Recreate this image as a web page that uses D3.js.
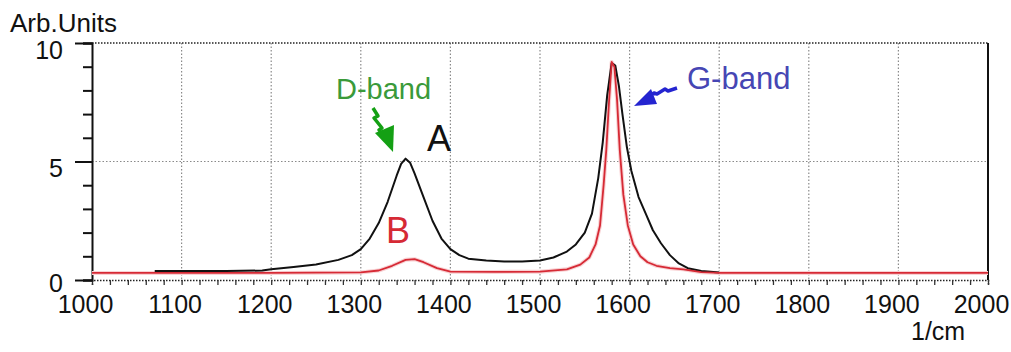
<!DOCTYPE html>
<html>
<head>
<meta charset="utf-8">
<script src="https://cdn.jsdelivr.net/npm/d3@7"></script>
<style>
  html, body { margin: 0; padding: 0; background: #fff; }
  svg { display: block; font-family: "Liberation Sans", Arial, sans-serif; }
</style>
</head>
<body>
<svg id="chart" width="1011" height="352"></svg>
<script>
// Raman spectrum, two samples (A: black, B: red), intensity vs wavenumber
const xTicks = [1000, 1100, 1200, 1300, 1400, 1500, 1600, 1700, 1800, 1900, 2000];
const yTicks = [0, 5, 10];

const waveA = [1070, 1100, 1150, 1190, 1200, 1225, 1250, 1275, 1290, 1300, 1310, 1320, 1330, 1340, 1345, 1350,
  1355, 1360, 1370, 1380, 1390, 1400, 1410, 1420, 1440, 1460, 1480, 1500, 1515, 1530, 1540, 1550, 1558, 1565,
  1570, 1575, 1580, 1584, 1588, 1592, 1597, 1602, 1610, 1618, 1626, 1635, 1645, 1655, 1665, 1680, 1700];
const intensityA = [0.38, 0.38, 0.38, 0.40, 0.45, 0.55, 0.65, 0.85, 1.05, 1.3, 1.75, 2.4, 3.3, 4.4, 4.9, 5.12,
  4.95, 4.5, 3.5, 2.5, 1.75, 1.3, 1.05, 0.9, 0.82, 0.78, 0.78, 0.82, 0.95, 1.2, 1.5, 2.0, 2.8, 4.3,
  5.8, 7.8, 9.15, 9.05, 8.2, 7.0, 5.6, 4.6, 3.5, 2.8, 2.1, 1.55, 1.05, 0.7, 0.5, 0.38, 0.32];

const waveB = [1000, 1100, 1200, 1300, 1320, 1335, 1350, 1360, 1370, 1385, 1400, 1450, 1500, 1530, 1545, 1555,
  1562, 1567, 1571, 1574, 1577, 1580, 1583, 1586, 1589, 1593, 1598, 1604, 1612, 1620, 1630, 1645, 1660, 1680,
  1700, 1800, 1900, 2000];
const intensityB = [0.3, 0.3, 0.3, 0.32, 0.4, 0.6, 0.85, 0.88, 0.75, 0.5, 0.35, 0.34, 0.35, 0.45, 0.65, 0.95,
  1.5, 2.3, 4.0, 5.5, 7.5, 9.2, 9.0, 7.6, 5.5, 3.6, 2.3, 1.5, 1.0, 0.75, 0.6, 0.5, 0.45, 0.33,
  0.3, 0.3, 0.3, 0.3];

const svg = d3.select("#chart");
const x = d3.scaleLinear().domain([1000, 2000]).range([92, 988]);
const y = d3.scaleLinear().domain([0, 10]).range([280, 43]);

// grid
const grid = svg.append("g");
grid.selectAll("line.v").data(xTicks.slice(1, -1)).join("line")
  .attr("x1", d => x(d)).attr("x2", d => x(d))
  .attr("y1", y(10)).attr("y2", y(0))
  .attr("stroke", "#8a8a8a").attr("stroke-width", 1.2).attr("stroke-dasharray", "1.5,2");
grid.append("line")
  .attr("x1", x(1000)).attr("x2", x(2000)).attr("y1", y(5)).attr("y2", y(5))
  .attr("stroke", "#8a8a8a").attr("stroke-width", 1.2).attr("stroke-dasharray", "1.5,2");
grid.append("line")
  .attr("x1", x(1000)).attr("x2", x(2000)).attr("y1", y(10)).attr("y2", y(10))
  .attr("stroke", "#222").attr("stroke-width", 1.5).attr("stroke-dasharray", "1.5,1.5");
grid.append("line")
  .attr("x1", x(2000)).attr("x2", x(2000)).attr("y1", y(10)).attr("y2", y(0))
  .attr("stroke", "#111").attr("stroke-width", 2);

// bottom axis: minor ticks every 20, labels every 100
const minor = d3.range(1000, 2001, 20);
const xAxis = svg.append("g").attr("transform", `translate(0,${y(0)})`)
  .call(d3.axisBottom(x).tickValues(minor).tickSize(5).tickFormat(""));
xAxis.select(".domain").attr("stroke", "#222").attr("stroke-width", 1.5).attr("stroke-dasharray", "1.5,1.5");
xAxis.selectAll(".tick line").attr("stroke", "#333").attr("stroke-width", 1.3);

const xLabels = svg.append("g").attr("transform", `translate(-7,${y(0)})`)
  .call(d3.axisBottom(x).tickValues(xTicks).tickSize(0).tickPadding(15).tickFormat(d3.format("d")));
xLabels.select(".domain").remove();
xLabels.selectAll("text").attr("font-size", 25).attr("fill", "#111")
  .attr("font-family", "Liberation Sans, Arial, sans-serif");

// left axis: minor ticks every unit, labelled majors
const yAxisMinor = svg.append("g").attr("transform", `translate(${x(1000)},0)`)
  .call(d3.axisLeft(y).tickValues(d3.range(0, 11, 1)).tickSize(9).tickFormat(""));
yAxisMinor.select(".domain").attr("stroke", "#111").attr("stroke-width", 2);
yAxisMinor.selectAll(".tick line").attr("stroke", "#111").attr("stroke-width", 2);

const yAxisMajor = svg.append("g").attr("transform", `translate(${x(1000)},0)`)
  .call(d3.axisLeft(y).tickValues(yTicks).tickSize(17).tickPadding(12).tickFormat(d3.format("d")));
yAxisMajor.select(".domain").remove();
yAxisMajor.selectAll(".tick line").attr("stroke", "#111").attr("stroke-width", 2);
yAxisMajor.selectAll("text").attr("font-size", 25).attr("fill", "#111")
  .attr("font-family", "Liberation Sans, Arial, sans-serif")
  .attr("dy", d => d === 0 ? "0.45em" : "0.6em");

// axis titles
svg.append("text").attr("x", 10).attr("y", 32).attr("font-size", 26).attr("fill", "#111").text("Arb.Units");
svg.append("text").attr("x", 911).attr("y", 340).attr("font-size", 25).attr("fill", "#111").text("1/cm");

// spectra
const lineA = d3.line().x((d, i) => x(waveA[i])).y(d => y(d));
const lineB = d3.line().x((d, i) => x(waveB[i])).y(d => y(d));

svg.append("path").datum(intensityB).attr("d", lineB)
  .attr("fill", "none").attr("stroke", "#f8d2d4").attr("stroke-width", 4).attr("stroke-linejoin", "round");
svg.append("path").datum(intensityA).attr("d", lineA)
  .attr("fill", "none").attr("stroke", "#111").attr("stroke-width", 2).attr("stroke-linejoin", "round");
svg.append("path").datum(intensityB).attr("d", lineB)
  .attr("fill", "none").attr("stroke", "#d62a35").attr("stroke-width", 1.8).attr("stroke-linejoin", "round");

// band annotations
svg.append("text").attr("x", 336).attr("y", 99).attr("font-size", 29).attr("fill", "#3a9a3a").text("D-band");
svg.append("path")
  .attr("d", "M373,108 L378,116 L374,118 L382,128 L379,130 L384,136")
  .attr("fill", "none").attr("stroke", "#14a014").attr("stroke-width", 3.5).attr("stroke-linejoin", "round");
svg.append("path")
  .attr("d", "M375,133 L394,125 L393,152 Z")
  .attr("fill", "#14a014");

svg.append("text").attr("x", 687).attr("y", 89).attr("font-size", 31).attr("fill", "#4646b4").text("G-band");
svg.append("path")
  .attr("d", "M677,88 L668,91 L665,89 L657,94 L654,93 L648,97")
  .attr("fill", "none").attr("stroke", "#2424d0").attr("stroke-width", 3.5).attr("stroke-linejoin", "round");
svg.append("path")
  .attr("d", "M651,89 L657,104 L634,106 Z")
  .attr("fill", "#2424d0");

svg.append("text").attr("x", 427).attr("y", 151).attr("font-size", 36).attr("fill", "#111")
  .attr("font-weight", 300).text("A");
svg.append("text").attr("x", 386).attr("y", 243).attr("font-size", 36).attr("fill", "#d62a35").text("B");
</script>
</body>
</html>
